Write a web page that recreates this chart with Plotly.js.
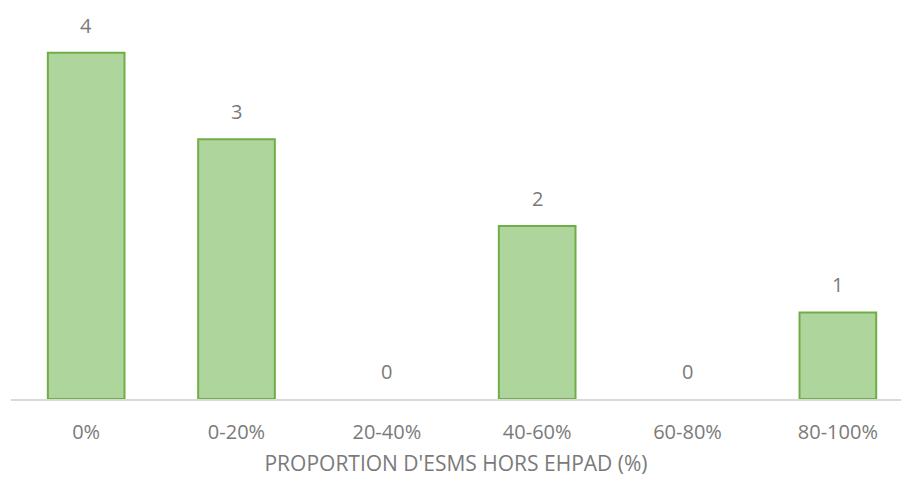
<!DOCTYPE html>
<html><head><meta charset="utf-8">
<script src="https://cdn.plot.ly/plotly-3.0.1.min.js"></script>
<style>html,body{margin:0;padding:0;background:#fff}#chart{width:901px;height:482px}</style>
</head><body><div id="chart"></div>
<script>
const categories = ['0%', '0-20%', '20-40%', '40-60%', '60-80%', '80-100%'];
const counts = [4, 3, 0, 2, 0, 1];
const xTitle = "PROPORTION D'ESMS HORS EHPAD (%)";

const font = '"Open Sans", sans-serif';
const grey = '#7a7a7a';

const trace = {
  type: 'bar',
  x: categories,
  y: counts,
  width: 0.51,
  marker: {
    color: '#aed59b',
    line: {color: '#70ad47', width: counts.map(v => v > 0 ? 2 : 0)}
  },
  hoverinfo: 'skip'
};

const annotations = categories.map((c, i) => ({
  x: c, y: counts[i], xref: 'x', yref: 'y',
  text: String(counts[i]), showarrow: false,
  yanchor: 'bottom', yshift: 12,
  font: {family: font, size: 20, color: grey}
}));

const layout = {
  width: 901, height: 482,
  margin: {l: 11, r: 0, t: 0, b: 83},
  paper_bgcolor: '#fff', plot_bgcolor: '#fff',
  showlegend: false,
  xaxis: {
    type: 'category', range: [-0.5, 5.42],
    showline: true, linecolor: '#d9d9d9', linewidth: 1.5,
    ticks: '', ticklabelstandoff: 14,
    tickfont: {family: font, size: 20, color: grey},
    title: {text: xTitle, font: {family: font, size: 21, color: grey}, standoff: 13},
    fixedrange: true
  },
  yaxis: {range: [0, 4.61], visible: false, showgrid: false, zeroline: false},
  annotations: annotations
};

Plotly.newPlot('chart', [trace], layout, {displayModeBar: false, staticPlot: true});
</script></body></html>
